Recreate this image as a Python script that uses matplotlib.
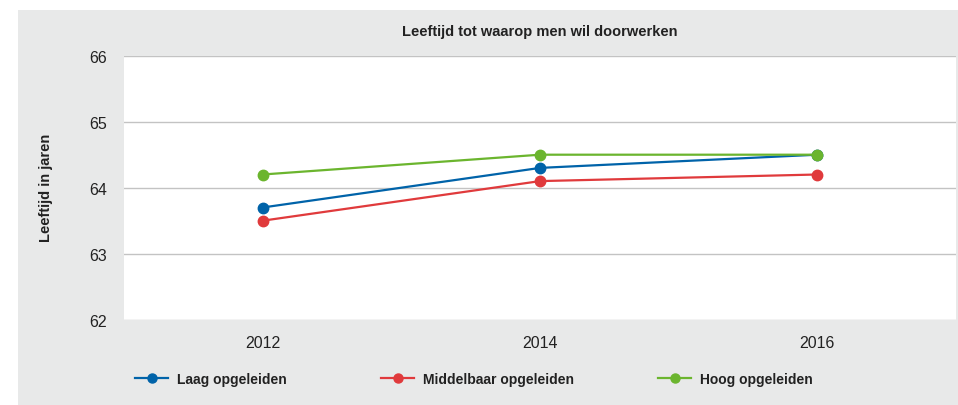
import matplotlib.pyplot as plt
from matplotlib.patches import Rectangle
from matplotlib.lines import Line2D

years = ["2012", "2014", "2016"]
laag = [63.7, 64.3, 64.5]
middelbaar = [63.5, 64.1, 64.2]
hoog = [64.2, 64.5, 64.5]
names = ["Laag opgeleiden", "Middelbaar opgeleiden", "Hoog opgeleiden"]
colors = ["#0063a9", "#e03a3c", "#6bb52e"]

W, H = 958, 406
fig = plt.figure(figsize=(W / 100, H / 100), dpi=100)
fig.patch.set_facecolor("white")
fig.patches.append(Rectangle((18 / W, 0), 1 - 18 / W, (H - 11) / H,
                             transform=fig.transFigure, facecolor="#e8e9e9",
                             edgecolor="none", zorder=-10))

ax = fig.add_axes([124 / W, (H - 320.7) / H, (956 - 124) / W, (320.7 - 56.7) / H])
ax.set_facecolor("white")

x = list(range(len(years)))
for vals, c in zip([laag, middelbaar, hoog], colors):
    ax.plot(x, vals, color=c, lw=1.6, marker="o", ms=7.5, zorder=3)

ax.set_xlim(-0.5, len(years) - 0.5)
ax.set_ylim(62, 66)
ax.set_yticks([62, 63, 64, 65, 66])
ax.set_xticks(x)
ax.set_xticklabels(years)
ax.grid(axis="y", color="#c3c3c3", lw=1)
ax.set_axisbelow(True)
for s in ax.spines.values():
    s.set_visible(False)
ax.tick_params(axis="both", length=0, labelsize=11.5, labelcolor="#222222",
               labelfontfamily="Liberation Sans")
ax.tick_params(axis="y", pad=12)
ax.tick_params(axis="x", pad=11)

fig.text(540 / W, (H - 32) / H, "Leeftijd tot waarop men wil doorwerken",
         ha="center", va="center", fontsize=10.5, fontweight="bold",
         family="Liberation Sans", color="#222222")
fig.text(46 / W, (H - 188) / H, "Leeftijd in jaren", rotation=90,
         ha="center", va="center", fontsize=10.5, fontweight="bold",
         family="Liberation Sans", color="#222222")

starts = [135, 381, 658]
for name, c, sx in zip(names, colors, starts):
    h = Line2D([], [], color=c, lw=1.6, marker="o", ms=6.5)
    lg = fig.legend([h], [name], loc="center left",
                    bbox_to_anchor=(sx / W, (H - 380) / H), frameon=False,
                    borderpad=0, borderaxespad=0, handlelength=2.4,
                    handletextpad=0.6,
                    prop={"family": "Liberation Sans", "weight": "bold", "size": 10})
    for t in lg.get_texts():
        t.set_color("#222222")

fig.savefig("out.png", dpi=100)
